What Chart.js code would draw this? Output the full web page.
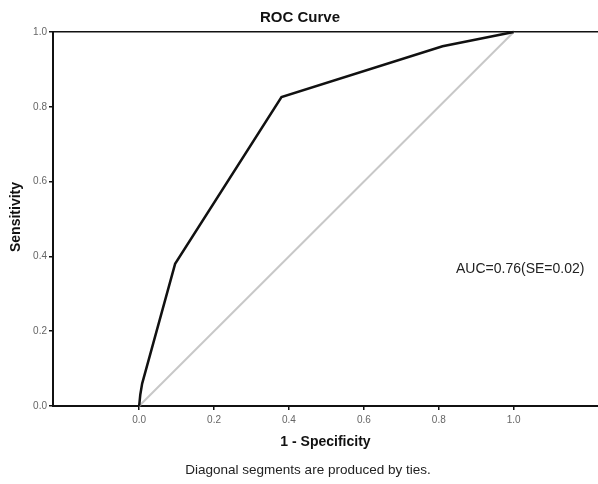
<!DOCTYPE html>
<html>
<head>
<meta charset="utf-8">
<script src="https://cdn.jsdelivr.net/npm/chart.js@4/dist/chart.umd.min.js"></script>
<style>
    html, body { margin: 0; padding: 0; background: #fff; }
    #wrap { width: 598px; height: 484px; }
</style>
</head>
<body>
<div id="wrap"><canvas id="roc" width="598" height="484"></canvas></div>
<script>
// ROC curve points
const falsePositiveRate = [0, 0.003, 0.008, 0.096, 0.38, 0.81, 1];
const sensitivity = [0, 0.03, 0.06, 0.38, 0.826, 0.962, 1];
// reference diagonal
const diagonalX = [0, 1];
const diagonalY = [0, 1];
const xTickValues = [0, 0.2, 0.4, 0.6, 0.8, 1.0];
const yTickValues = [0, 0.2, 0.4, 0.6, 0.8, 1.0];

const chartTitle = 'ROC Curve';
const xTitle = '1 - Specificity';
const yTitle = 'Sensitivity';
const footnote = 'Diagonal segments are produced by ties.';
const aucLabel = 'AUC=0.76(SE=0.02)';

const FONT = '"Liberation Sans", Arial, Helvetica, sans-serif';

const toPoints = (xs, ys) => xs.map((x, i) => ({x: x, y: ys[i]}));

const textPlugin = {
    id: 'rocTexts',
    afterDraw(chart) {
        const ctx = chart.ctx;
        const area = chart.chartArea;
        ctx.save();
        ctx.fillStyle = '#111';
        ctx.textBaseline = 'middle';

        ctx.font = 'bold 15px ' + FONT;
        ctx.textAlign = 'center';
        ctx.fillText(chartTitle, 300, 18);

        ctx.font = 'bold 14px ' + FONT;
        ctx.fillText(xTitle, (area.left + area.right) / 2, 442);

        ctx.save();
        ctx.translate(16, 217);
        ctx.rotate(-Math.PI / 2);
        ctx.fillText(yTitle, 0, 0);
        ctx.restore();

        ctx.font = '13.5px ' + FONT;
        ctx.fillStyle = '#222';
        ctx.fillText(footnote, 308, 470);

        ctx.font = '14px ' + FONT;
        ctx.textAlign = 'left';
        ctx.fillText(aucLabel, 456, 269);
        ctx.restore();
    }
};

new Chart(document.getElementById('roc'), {
    type: 'scatter',
    data: {
        datasets: [
            {
                data: toPoints(diagonalX, diagonalY),
                showLine: true,
                borderColor: '#c8c8c8',
                borderWidth: 2,
                pointRadius: 0,
                clip: false,
                order: 2
            },
            {
                data: toPoints(falsePositiveRate, sensitivity),
                showLine: true,
                borderColor: '#111',
                borderWidth: 2.5,
                pointRadius: 0,
                tension: 0,
                clip: false,
                order: 1
            }
        ]
    },
    options: {
        responsive: false,
        animation: false,
        layout: {padding: {top: 32, left: 0, right: 0, bottom: 0}},
        plugins: {
            legend: {display: false},
            title: {display: false},
            tooltip: {enabled: false}
        },
        scales: {
            x: {
                type: 'linear',
                min: -0.23,
                max: 1.225,
                afterBuildTicks(scale) {
                    scale.ticks = xTickValues.map(v => ({value: v}));
                },
                afterFit(scale) {
                    scale.height = 78;
                },
                border: {display: true, color: '#111', width: 2},
                grid: {
                    drawOnChartArea: false,
                    drawTicks: true,
                    tickLength: 4,
                    tickColor: '#111',
                    lineWidth: 1.5
                },
                ticks: {
                    color: '#666',
                    padding: 4,
                    font: {family: FONT, size: 10},
                    callback: v => Number(v).toFixed(1)
                }
            },
            y: {
                type: 'linear',
                min: 0,
                max: 1,
                afterBuildTicks(scale) {
                    scale.ticks = yTickValues.map(v => ({value: v}));
                },
                afterFit(scale) {
                    scale.width = 53;
                },
                border: {display: true, color: '#111', width: 2},
                grid: {
                    drawOnChartArea: true,
                    drawTicks: true,
                    tickLength: 4,
                    tickColor: '#111',
                    lineWidth: 1.5,
                    color: c => (c.tick && c.tick.value === 1 ? '#111' : 'rgba(0,0,0,0)')
                },
                ticks: {
                    color: '#666',
                    padding: 2,
                    font: {family: FONT, size: 10},
                    callback: v => Number(v).toFixed(1)
                }
            }
        }
    },
    plugins: [textPlugin]
});
</script>
</body>
</html>
